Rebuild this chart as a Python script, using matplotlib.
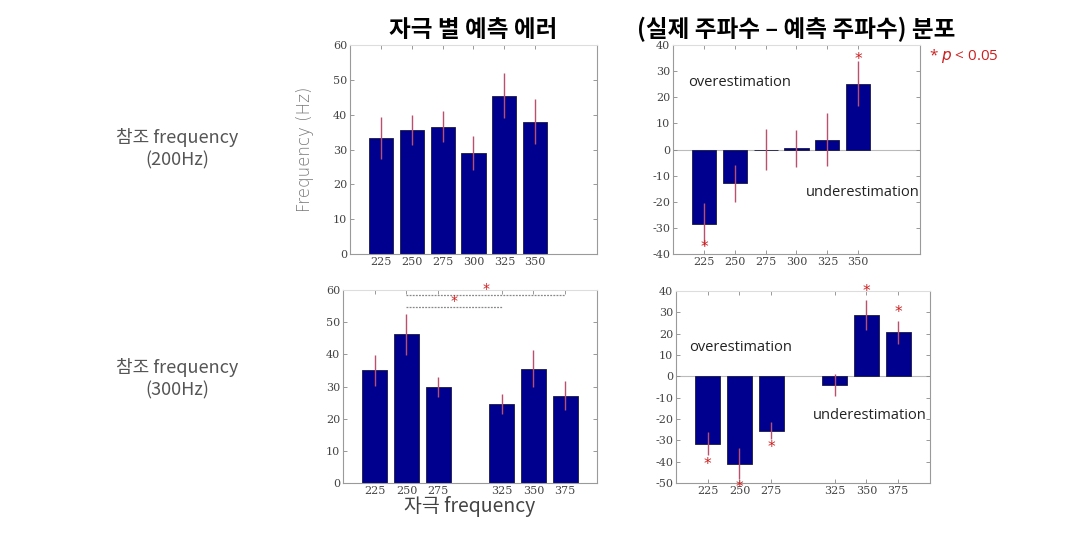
import matplotlib
matplotlib.use("Agg")
import matplotlib.pyplot as plt
import numpy as np

plt.rcParams['font.family'] = ['Noto Sans CJK KR', 'DejaVu Sans']

# ── data ──────────────────────────────────────────────────────────────────────
top_labels = ["225", "250", "275", "300", "325", "350"]
top_pos = [1, 2, 3, 4, 5, 6]
top_err_mean = [33.4, 35.6, 36.6, 29.0, 45.5, 38.0]
top_err_sem = [6.0, 4.3, 4.5, 4.9, 6.5, 6.5]
top_diff_mean = [-28.5, -13.0, 0.0, 0.4, 3.8, 25.2]
top_diff_sem = [8.2, 7.0, 7.7, 7.0, 10.0, 8.5]
top_diff_sig = [True, False, False, False, False, True]

bot_labels = ["225", "250", "275", "325", "350", "375"]
bot_pos = [1, 2, 3, 5, 6, 7]
bot_err_mean = [35.1, 46.3, 29.9, 24.5, 35.5, 27.2]
bot_err_sem = [4.8, 6.4, 3.1, 3.1, 5.8, 4.4]
bot_diff_mean = [-31.6, -41.0, -25.5, -4.1, 28.9, 20.7]
bot_diff_sem = [5.5, 7.3, 4.0, 5.3, 7.0, 5.4]
bot_diff_sig = [True, True, True, False, True, True]

# pairwise comparisons in the bottom-left panel: (from, to, line height)
pairs = [(2, 7, 58.3), (2, 5, 54.7)]

# ── style ─────────────────────────────────────────────────────────────────────
C_BAR = "#00008f"
C_ERR = "#b8506e"
C_STAR = "#cc2020"
C_FRAME = "#9a9a9a"
TICK_FONT = dict(family="DejaVu Serif", size=8, color="#444444")

fig = plt.figure(figsize=(10.85, 5.41), dpi=100)
fig.patch.set_facecolor("white")


def style_axes(ax, pos, labels, ylim, yticks):
    ax.set_xlim(0, 8)
    ax.set_ylim(*ylim)
    ax.set_xticks(pos)
    ax.set_xticklabels(labels, fontdict=TICK_FONT)
    ax.set_yticks(yticks)
    ax.set_yticklabels([str(t) for t in yticks], fontdict=TICK_FONT)
    ax.tick_params(direction="in", top=True, right=True, length=3,
                   width=0.6, color="#888888", pad=2)
    for name, sp in ax.spines.items():
        sp.set_linewidth(0.8)
        sp.set_edgecolor("#dddddd" if name == "top" else C_FRAME)


def bars(ax, pos, mean, sem):
    ax.bar(pos, mean, width=0.78, color=C_BAR, edgecolor="#1a1a40",
           linewidth=0.6, zorder=2)
    ax.errorbar(pos, mean, yerr=sem, fmt="none", ecolor=C_ERR,
                elinewidth=1.0, capsize=0, zorder=3)


def stars(ax, pos, mean, sem, sig, off):
    for x, m, s, g in zip(pos, mean, sem, sig):
        if not g:
            continue
        y = m + s + off if m > 0 else m - s - off
        ax.text(x, y, "*", color=C_STAR, fontsize=11, ha="center",
                va="center", family="DejaVu Sans", zorder=4, clip_on=False)


# ── top-left: prediction error ───────────────────────────────────────────────
ax1 = fig.add_axes([0.3226, 0.5305, 0.2276, 0.3863])
bars(ax1, top_pos, top_err_mean, top_err_sem)
style_axes(ax1, top_pos, top_labels, (0, 60), [0, 10, 20, 30, 40, 50, 60])
ax1.set_ylabel("Frequency (Hz)", fontsize=12, color="#777777",
               family="DejaVu Sans", fontweight="light", labelpad=14)
ax1.set_title("자극 별 예측 에러", fontsize=17, fontweight="bold", pad=6)

# ── top-right: actual - predicted ────────────────────────────────────────────
ax2 = fig.add_axes([0.6203, 0.5305, 0.2276, 0.3863])
ax2.axhline(0, color="#bbbbbb", linewidth=0.8, zorder=1)
bars(ax2, top_pos, top_diff_mean, top_diff_sem)
style_axes(ax2, top_pos, top_labels, (-40, 40),
           [-40, -30, -20, -10, 0, 10, 20, 30, 40])
stars(ax2, top_pos, top_diff_mean, top_diff_sem, top_diff_sig, 0.8)
ax2.text(0.5, 25.5, "overestimation", fontsize=10.5, color="#222222",
         va="center", family="Open Sans")
ax2.text(4.3, -16.5, "underestimation", fontsize=10.5, color="#222222",
         va="center", family="Open Sans")
ax2.set_title("(실제 주파수 – 예측 주파수) 분포", fontsize=17,
              fontweight="bold", pad=6)
ax2.text(1.04, 0.945, "* ", transform=ax2.transAxes, color=C_STAR,
         fontsize=11, va="center", ha="left", family="Open Sans")
ax2.text(1.085, 0.945, "$p$ < 0.05", transform=ax2.transAxes, color=C_STAR,
         fontsize=11, va="center", ha="left", family="Open Sans")

# ── bottom-left ──────────────────────────────────────────────────────────────
ax3 = fig.add_axes([0.3161, 0.1072, 0.2341, 0.3567])
bars(ax3, bot_pos, bot_err_mean, bot_err_sem)
style_axes(ax3, bot_pos, bot_labels, (0, 60), [0, 10, 20, 30, 40, 50, 60])
for x0, x1, h in pairs:
    ax3.plot([x0, x1], [h, h], color="#888888", linewidth=0.9,
             linestyle=(0, (1.5, 1)), zorder=3)
    ax3.text((x0 + x1) / 2, h + 2, "*", color=C_STAR, fontsize=10,
             ha="center", va="center", family="DejaVu Sans", clip_on=False)
ax3.set_xlabel("자극 frequency", fontsize=14, color="#444444",
               fontweight="light", labelpad=0)

# ── bottom-right ─────────────────────────────────────────────────────────────
ax4 = fig.add_axes([0.6230, 0.1072, 0.2341, 0.3549])
ax4.axhline(0, color="#bbbbbb", linewidth=0.8, zorder=1)
bars(ax4, bot_pos, bot_diff_mean, bot_diff_sem)
style_axes(ax4, bot_pos, bot_labels, (-50, 40),
           [-50, -40, -30, -20, -10, 0, 10, 20, 30, 40])
stars(ax4, bot_pos, bot_diff_mean, bot_diff_sem, bot_diff_sig, 4.0)
ax4.text(0.4, 13.5, "overestimation", fontsize=10.5, color="#222222",
         va="center", family="Open Sans")
ax4.text(4.3, -18.5, "underestimation", fontsize=10.5, color="#222222",
         va="center", family="Open Sans")

# ── row labels ───────────────────────────────────────────────────────────────
for y, ref in [(0.725, "200Hz"), (0.30, "300Hz")]:
    fig.text(0.163, y, f"참조 frequency\n({ref})", fontsize=13,
             color="#555555", ha="center", va="center", linespacing=1.3,
             fontweight="light")

fig.savefig("out.png", dpi=100, facecolor="white")
